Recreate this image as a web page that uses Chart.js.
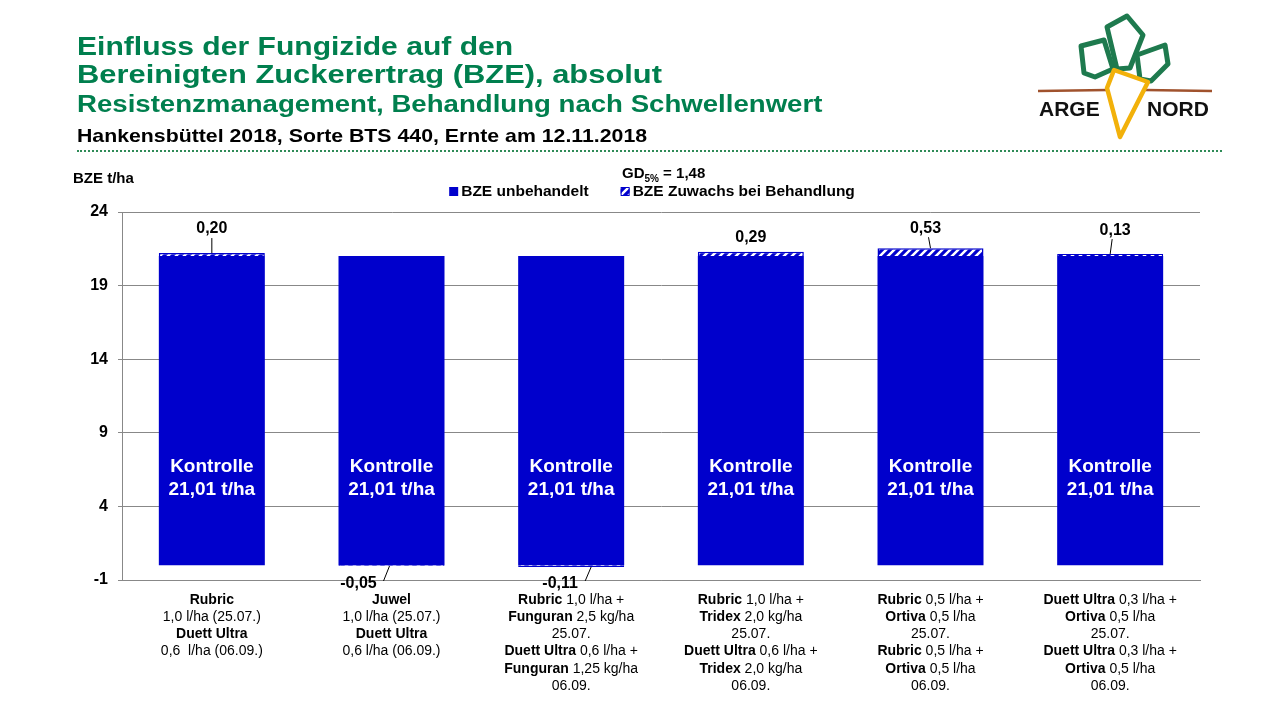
<!DOCTYPE html>
<html>
<head>
<meta charset="utf-8">
<script src="https://cdn.jsdelivr.net/npm/chart.js@4/dist/chart.umd.min.js"></script>
<style>
  html, body { margin: 0; padding: 0; background: #fff; }
  body { width: 1280px; height: 720px; position: relative; overflow: hidden; font-family: "Liberation Sans", Arial, sans-serif; }
  #chart { position: absolute; left: 0; top: 0; }
  .t { position: absolute; white-space: nowrap; font-weight: bold; line-height: 1; transform-origin: left top; }
  .green { color: #007F4E; }
  #dots { position: absolute; left: 77px; top: 150px; width: 1145px; border-top: 2px dotted #2E8B57; }
</style>
</head>
<body>
<canvas id="chart" width="1280" height="720"></canvas>

<div class="t green" style="left:77px; top:32.6px; font-size:26.5px; transform:scaleX(1.135);">Einfluss der Fungizide auf den</div>
<div class="t green" style="left:77px; top:60.6px; font-size:26.5px; transform:scaleX(1.165);">Bereinigten Zuckerertrag (BZE), absolut</div>
<div class="t green" style="left:77px; top:92.5px; font-size:23px; transform:scaleX(1.2);">Resistenzmanagement, Behandlung nach Schwellenwert</div>
<div class="t" style="left:77px; top:125.9px; font-size:19px; color:#000; transform:scaleX(1.12);">Hankensbüttel 2018, Sorte BTS 440, Ernte am 12.11.2018</div>
<div id="dots"></div>
<div class="t" style="left:73px; top:170px; font-size:15px;">BZE t/ha</div>
<div class="t" style="left:622px; top:165px; font-size:15px;">GD<sub style="font-size:10px;">5%</sub> = 1,48</div>

<svg style="position:absolute; left:1030px; top:10px;" width="200" height="140" viewBox="0 0 200 140">
  <g fill="none" stroke="#1E7A4E" stroke-width="5" stroke-linejoin="round">
    <polygon points="51,36 74,30 83,59 65,67 54,63"/>
    <polygon points="77,17 97,6 113,25 100,58 87,59"/>
    <polygon points="107,45 135,35 138,54 121,71 110,69"/>
  </g>
  <line x1="8" y1="81" x2="78" y2="80" stroke="#A0522D" stroke-width="2.5"/>
  <line x1="115" y1="80" x2="182" y2="81" stroke="#A0522D" stroke-width="2.5"/>
  <polygon points="84,60 118,72 90,127 77,78" fill="#fff" stroke="#F2B10A" stroke-width="4.5" stroke-linejoin="round"/>
  <text x="9" y="106" font-family="Liberation Sans, Arial" font-weight="bold" font-size="21" fill="#111">ARGE</text>
  <text x="117" y="106" font-family="Liberation Sans, Arial" font-weight="bold" font-size="21" fill="#111">NORD</text>
</svg>

<script>
// categories: one entry per bar, lines of the axis label (**bold** parts)
const categoryLines = [
  ['**Rubric**', '1,0 l/ha (25.07.)', '**Duett Ultra**', '0,6  l/ha (06.09.)'],
  ['**Juwel**', '1,0 l/ha (25.07.)', '**Duett Ultra**', '0,6 l/ha (06.09.)'],
  ['**Rubric** 1,0 l/ha +', '**Funguran** 2,5 kg/ha', '25.07.', '**Duett Ultra** 0,6 l/ha +', '**Funguran** 1,25 kg/ha', '06.09.'],
  ['**Rubric** 1,0 l/ha +', '**Tridex** 2,0 kg/ha', '25.07.', '**Duett Ultra** 0,6 l/ha +', '**Tridex** 2,0 kg/ha', '06.09.'],
  ['**Rubric** 0,5 l/ha +', '**Ortiva** 0,5 l/ha', '25.07.', '**Rubric** 0,5 l/ha +', '**Ortiva** 0,5 l/ha', '06.09.'],
  ['**Duett Ultra** 0,3 l/ha +', '**Ortiva** 0,5 l/ha', '25.07.', '**Duett Ultra** 0,3 l/ha +', '**Ortiva** 0,5 l/ha', '06.09.']
];
const controlValues = [21.01, 21.01, 21.01, 21.01, 21.01, 21.01];
const gainValues = [0.20, -0.05, -0.11, 0.29, 0.53, 0.13];
const yTicks = [-1, 4, 9, 14, 19, 24];
const seriesNames = ['BZE unbehandelt', 'BZE Zuwachs bei Behandlung'];

const BLUE = '#0000CC';
const FONT = '"Liberation Sans", Arial, sans-serif';

// label nudges for the gain values (dx, dy from bar end; leader line on/off)
const gainLabelStyle = [
  { dx: 0, dy: -24, line: true },
  { dx: -33, dy: 0, line: true },
  { dx: -11, dy: 0, line: true },
  { dx: 0, dy: -14, line: false },
  { dx: -5, dy: -20, line: true },
  { dx: 5, dy: -24, line: true }
];

const ctx = document.getElementById('chart').getContext('2d');

function makeHatch() {
  const c = document.createElement('canvas');
  c.width = 8; c.height = 8;
  const g = c.getContext('2d');
  g.fillStyle = BLUE;
  g.fillRect(0, 0, 8, 8);
  g.strokeStyle = '#fff';
  g.lineWidth = 2.5;
  g.beginPath();
  g.moveTo(0, 8); g.lineTo(8, 0);
  g.moveTo(-2, 2); g.lineTo(2, -2);
  g.moveTo(6, 10); g.lineTo(10, 6);
  g.stroke();
  return ctx.createPattern(c, 'repeat');
}
const hatch = makeHatch();

const fmt = v => v.toFixed(2).replace('.', ',');

function drawRich(c, line, cx, y) {
  const parts = line.split('**').map((s, i) => ({ text: s, bold: i % 2 === 1 })).filter(p => p.text);
  let total = 0;
  parts.forEach(p => {
    c.font = (p.bold ? 'bold ' : '') + '14px ' + FONT;
    p.w = c.measureText(p.text).width;
    total += p.w;
  });
  let x = cx - total / 2;
  parts.forEach(p => {
    c.font = (p.bold ? 'bold ' : '') + '14px ' + FONT;
    c.fillText(p.text, x, y);
    x += p.w;
  });
}

const annotations = {
  id: 'annotations',
  afterDatasetsDraw(chart) {
    const c = chart.ctx;
    const y = chart.scales.y;
    const base = chart.getDatasetMeta(0).data;
    const gain = chart.getDatasetMeta(1).data;
    c.save();

    // Kontrolle text inside the bars
    c.fillStyle = '#fff';
    c.font = 'bold 19px ' + FONT;
    c.textAlign = 'center';
    c.textBaseline = 'middle';
    base.forEach((el, i) => {
      c.fillText('Kontrolle', el.x, y.getPixelForValue(6.7));
      c.fillText(fmt(controlValues[i]) + ' t/ha', el.x, y.getPixelForValue(5.13));
    });

    // gain labels with leader lines
    c.fillStyle = '#000';
    c.strokeStyle = '#000';
    c.lineWidth = 1;
    c.font = 'bold 16px ' + FONT;
    gain.forEach((el, i) => {
      const v = gainValues[i];
      const s = gainLabelStyle[i];
      if (v >= 0) {
        const tx = el.x + s.dx, ty = el.y + s.dy;
        c.fillText(fmt(v), tx, ty);
        if (s.line) {
          c.beginPath();
          c.moveTo(tx - s.dx * 0.6, ty + 9);
          c.lineTo(el.x, el.y);
          c.stroke();
        }
      } else {
        const tx = el.x + s.dx, ty = chart.chartArea.bottom + 4;
        c.fillText(fmt(v), tx, ty);
        c.beginPath();
        c.moveTo(tx + 25, ty - 3);
        c.lineTo(tx + 31, el.y);
        c.stroke();
      }
    });

    // category labels
    c.fillStyle = '#000';
    c.textAlign = 'left';
    base.forEach((el, i) => {
      categoryLines[i].forEach((line, k) => drawRich(c, line, el.x, 600 + k * 17.2));
    });

    // legend
    c.font = 'bold 15.5px ' + FONT;
    c.textBaseline = 'middle';
    const ly = 192;
    const w0 = c.measureText(seriesNames[0]).width;
    const w1 = c.measureText(seriesNames[1]).width;
    const gap = 32;
    let lx = 652 - (12 + w0 + gap + 12 + w1) / 2;
    c.fillStyle = BLUE;
    c.fillRect(lx, ly - 5, 9, 9);
    c.fillStyle = '#000';
    c.fillText(seriesNames[0], lx + 12, ly);
    lx += 12 + w0 + gap;
    c.fillStyle = hatch;
    c.fillRect(lx, ly - 5, 9, 9);
    c.strokeStyle = BLUE;
    c.strokeRect(lx + 0.5, ly - 4.5, 8, 8);
    c.fillStyle = '#000';
    c.fillText(seriesNames[1], lx + 12, ly);
    c.restore();
  }
};

new Chart(ctx, {
  type: 'bar',
  data: {
    labels: categoryLines.map(l => l.join(' ').replace(/\*\*/g, '')),
    datasets: [
      { label: seriesNames[0], data: controlValues, backgroundColor: BLUE, borderWidth: 0 },
      { label: seriesNames[1], data: gainValues, backgroundColor: hatch, borderColor: BLUE, borderWidth: 1.5 }
    ]
  },
  options: {
    responsive: false,
    devicePixelRatio: 1,
    animation: false,
    categoryPercentage: 1,
    barPercentage: 0.59,
    layout: { padding: { top: 212, right: 80, left: 0, bottom: 0 } },
    plugins: { legend: { display: false }, tooltip: { enabled: false } },
    scales: {
      x: {
        stacked: true,
        grid: { display: false },
        border: { display: true, color: '#888' },
        ticks: { display: false },
        afterFit: s => { s.height = 140; }
      },
      y: {
        stacked: true,
        min: -1,
        max: 24,
        afterBuildTicks: s => { s.ticks = yTicks.map(v => ({ value: v })); },
        afterFit: s => { s.width = 122; },
        grid: { color: '#888', tickLength: 4 },
        border: { display: true, color: '#888' },
        ticks: { color: '#000', padding: 10, font: { family: FONT, size: 16, weight: 'bold' } }
      }
    }
  },
  plugins: [annotations]
});
</script>
</body>
</html>
